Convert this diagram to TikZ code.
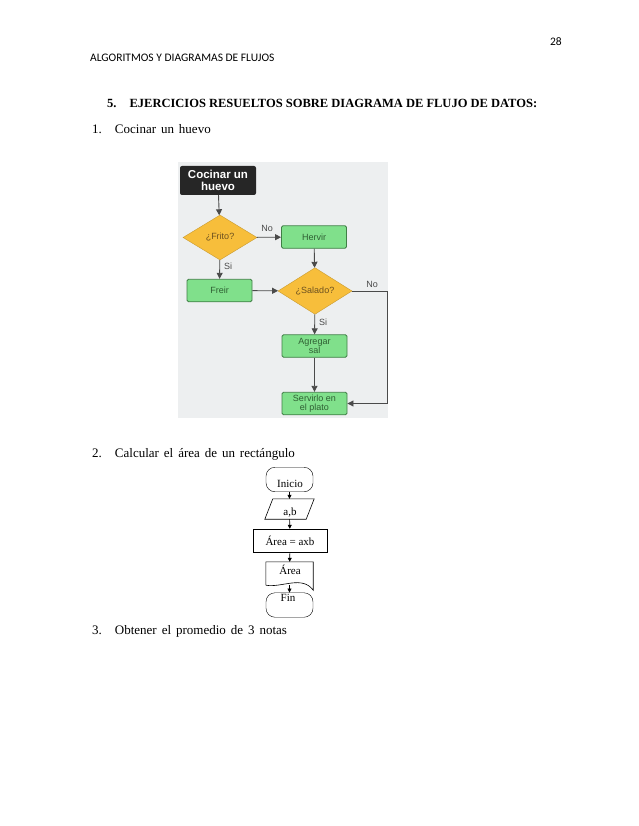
\documentclass[tikz,border=0pt]{standalone}
\usepackage{fontspec}
\setmainfont{Liberation Serif}
\newfontfamily\calibri{Carlito}
\newfontfamily\arialf{Liberation Sans}
\usetikzlibrary{calc,shapes.geometric,arrows.meta}

\definecolor{bggray}{HTML}{EDEFF0}
\definecolor{boxblack}{HTML}{262626}
\definecolor{yfill}{HTML}{F7BE3B}
\definecolor{yline}{HTML}{C99A2E}
\definecolor{ytext}{HTML}{6B5020}
\definecolor{gfill}{HTML}{80E08B}
\definecolor{gline}{HTML}{3F7F45}
\definecolor{gtext}{HTML}{2F5F33}
\definecolor{lgray}{HTML}{4A4A4A}

\newcommand{\widewords}{\spaceskip=0.38em\relax}

\tikzset{
	startbox/.style={rectangle, rounded corners=2pt, fill=boxblack, text=white, font=\arialf\bfseries\fontsize{11.5}{12}\selectfont, align=center, minimum width=76pt, minimum height=29pt, inner sep=0pt},
	askbox/.style={diamond, draw=yline, fill=yfill, text=ytext, font=\arialf\fontsize{9}{9}\selectfont, minimum width=74pt, minimum height=45pt, inner sep=0pt},
	dobox/.style={rectangle, rounded corners=1.5pt, draw=gline, line width=0.9pt, fill=gfill, text=gtext, font=\arialf\fontsize{9}{9.5}\selectfont, align=center, minimum width=65pt, minimum height=22.5pt, inner sep=0pt},
	flowline/.style={draw=lgray, line width=0.9pt, -{Triangle[length=6pt,width=6pt]}},
	flowtag/.style={text=lgray, font=\arialf\fontsize{9}{9}\selectfont, inner sep=0pt},
	termbox/.style={rectangle, draw, rounded corners=9pt, minimum width=47pt, minimum height=24.5pt, inner sep=0pt},
	plainbox/.style={rectangle, draw, minimum width=74pt, minimum height=23pt, inner sep=0pt},
	ghostbox/.style={rectangle, minimum width=49pt, minimum height=20pt, inner sep=0pt},
	smalltxt/.style={inner sep=0pt, font=\fontsize{11}{11}\selectfont},
	smallline/.style={line width=0.6pt, -{Triangle[length=4pt,width=4pt]}},
	bodytxt/.style={anchor=base west, inner sep=0pt, font=\fontsize{13}{13}\selectfont\widewords}
}

\begin{document}
\begin{tikzpicture}[x=1pt,y=-1pt]
		%%%%% START %%%%%
		
		\useasboundingbox[fill=white] (0,0) rectangle (638,826);
		
		% page header
		\node[anchor=base east, inner sep=0pt, font=\calibri\fontsize{11.5}{11.5}\selectfont] (pagenum) at (562,46) {28};
		\node[anchor=base west, inner sep=0pt, font=\calibri\fontsize{11.5}{11.5}\selectfont] (running) at (90,62) {ALGORITMOS Y DIAGRAMAS DE FLUJOS};
		
		\node[anchor=base west, inner sep=0pt, font=\bfseries\fontsize{12.5}{12.5}\selectfont] (heading) at (107,108) {5.\hspace{13pt}EJERCICIOS RESUELTOS SOBRE DIAGRAMA DE FLUJO DE DATOS:};
		
		% ejercicio 1
		\node[bodytxt] (item1) at (92,134) {1.\hspace{13pt}Cocinar un huevo};
		
		\fill[bggray] (178,162) rectangle (388,418);
		
		\node[startbox] (cocinar) at (218,180.5) {Cocinar un\\huevo};
		\node[askbox] (frito) at (220,237.5) {¿Frito?};
		\node[dobox] (hervir) at (314,237) {Hervir};
		\node[dobox] (freir) at (219.5,290.5) {Freir};
		\node[askbox, minimum height=46pt] (salado) at (315,291) {¿Salado?};
		\node[dobox] (agregar) at (314.5,346) {Agregar\\sal};
		\node[dobox] (servir) at (314.5,403.5) {Servirlo en\\el plato};
		
		\draw[flowline] (cocinar) -- (frito);
		\draw[flowline] (frito) -- (hervir);
		\draw[flowline] (frito) -- (freir);
		\draw[flowline] (hervir) -- (salado);
		\draw[flowline] (freir) -- (salado);
		\draw[flowline] (salado) -- (agregar);
		\draw[flowline] (agregar) -- (servir);
		\draw[flowline] (salado.east) -- ++(35,0) |- (servir.east);
		
		\node[flowtag] (no1) at (267,228) {No};
		\node[flowtag] (si1) at (228,266) {Si};
		\node[flowtag] (no2) at (372,284) {No};
		\node[flowtag] (si2) at (323,322) {Si};
		
		% ejercicio 2
		\node[bodytxt] (item2) at (92,457) {2.\hspace{13pt}Calcular el área de un rectángulo};
		
		\node[termbox] (inicio) at (289.5,479.5) {};
		\node[smalltxt] (inicio-t) at (290,484) {Inicio};
		
		\node[ghostbox] (datos) at (289.5,509) {};
		\draw[line width=0.6pt] ([xshift=8pt]datos.north west) -- (datos.north east) -- ([xshift=-8pt]datos.south east) -- (datos.south west) -- cycle;
		\node[smalltxt] (datos-t) at (290,513) {a,b};
		
		\node[plainbox] (calculo) at (290,540.5) {};
		\node[smalltxt] (calculo-t) at (290,541) {Área = axb};
		
		\node[ghostbox, minimum width=47pt, minimum height=23pt] (salida) at (289.5,573.5) {};
		\draw[line width=0.6pt] (salida.south west) -- (salida.north west) -- (salida.north east) -- ([yshift=-5pt]salida.south east) .. controls (302,575) and (282,588) .. (salida.south west);
		\node[smalltxt] (salida-t) at (290,570) {Área};
		
		\node[termbox] (fin) at (289.5,605) {};
		\node[smalltxt] (fin-t) at (288,598) {Fin};
		
		\draw[smallline] (inicio) -- (datos);
		\draw[smallline] (datos) -- (calculo);
		\draw[smallline] (calculo) -- (salida);
		\draw[smallline] (salida.south) -- (fin);
		
		% ejercicio 3
		\node[bodytxt] (item3) at (92,634) {3.\hspace{13pt}Obtener el promedio de 3 notas};
		
		%%%%% END %%%%%
	\end{tikzpicture}
\end{document}
